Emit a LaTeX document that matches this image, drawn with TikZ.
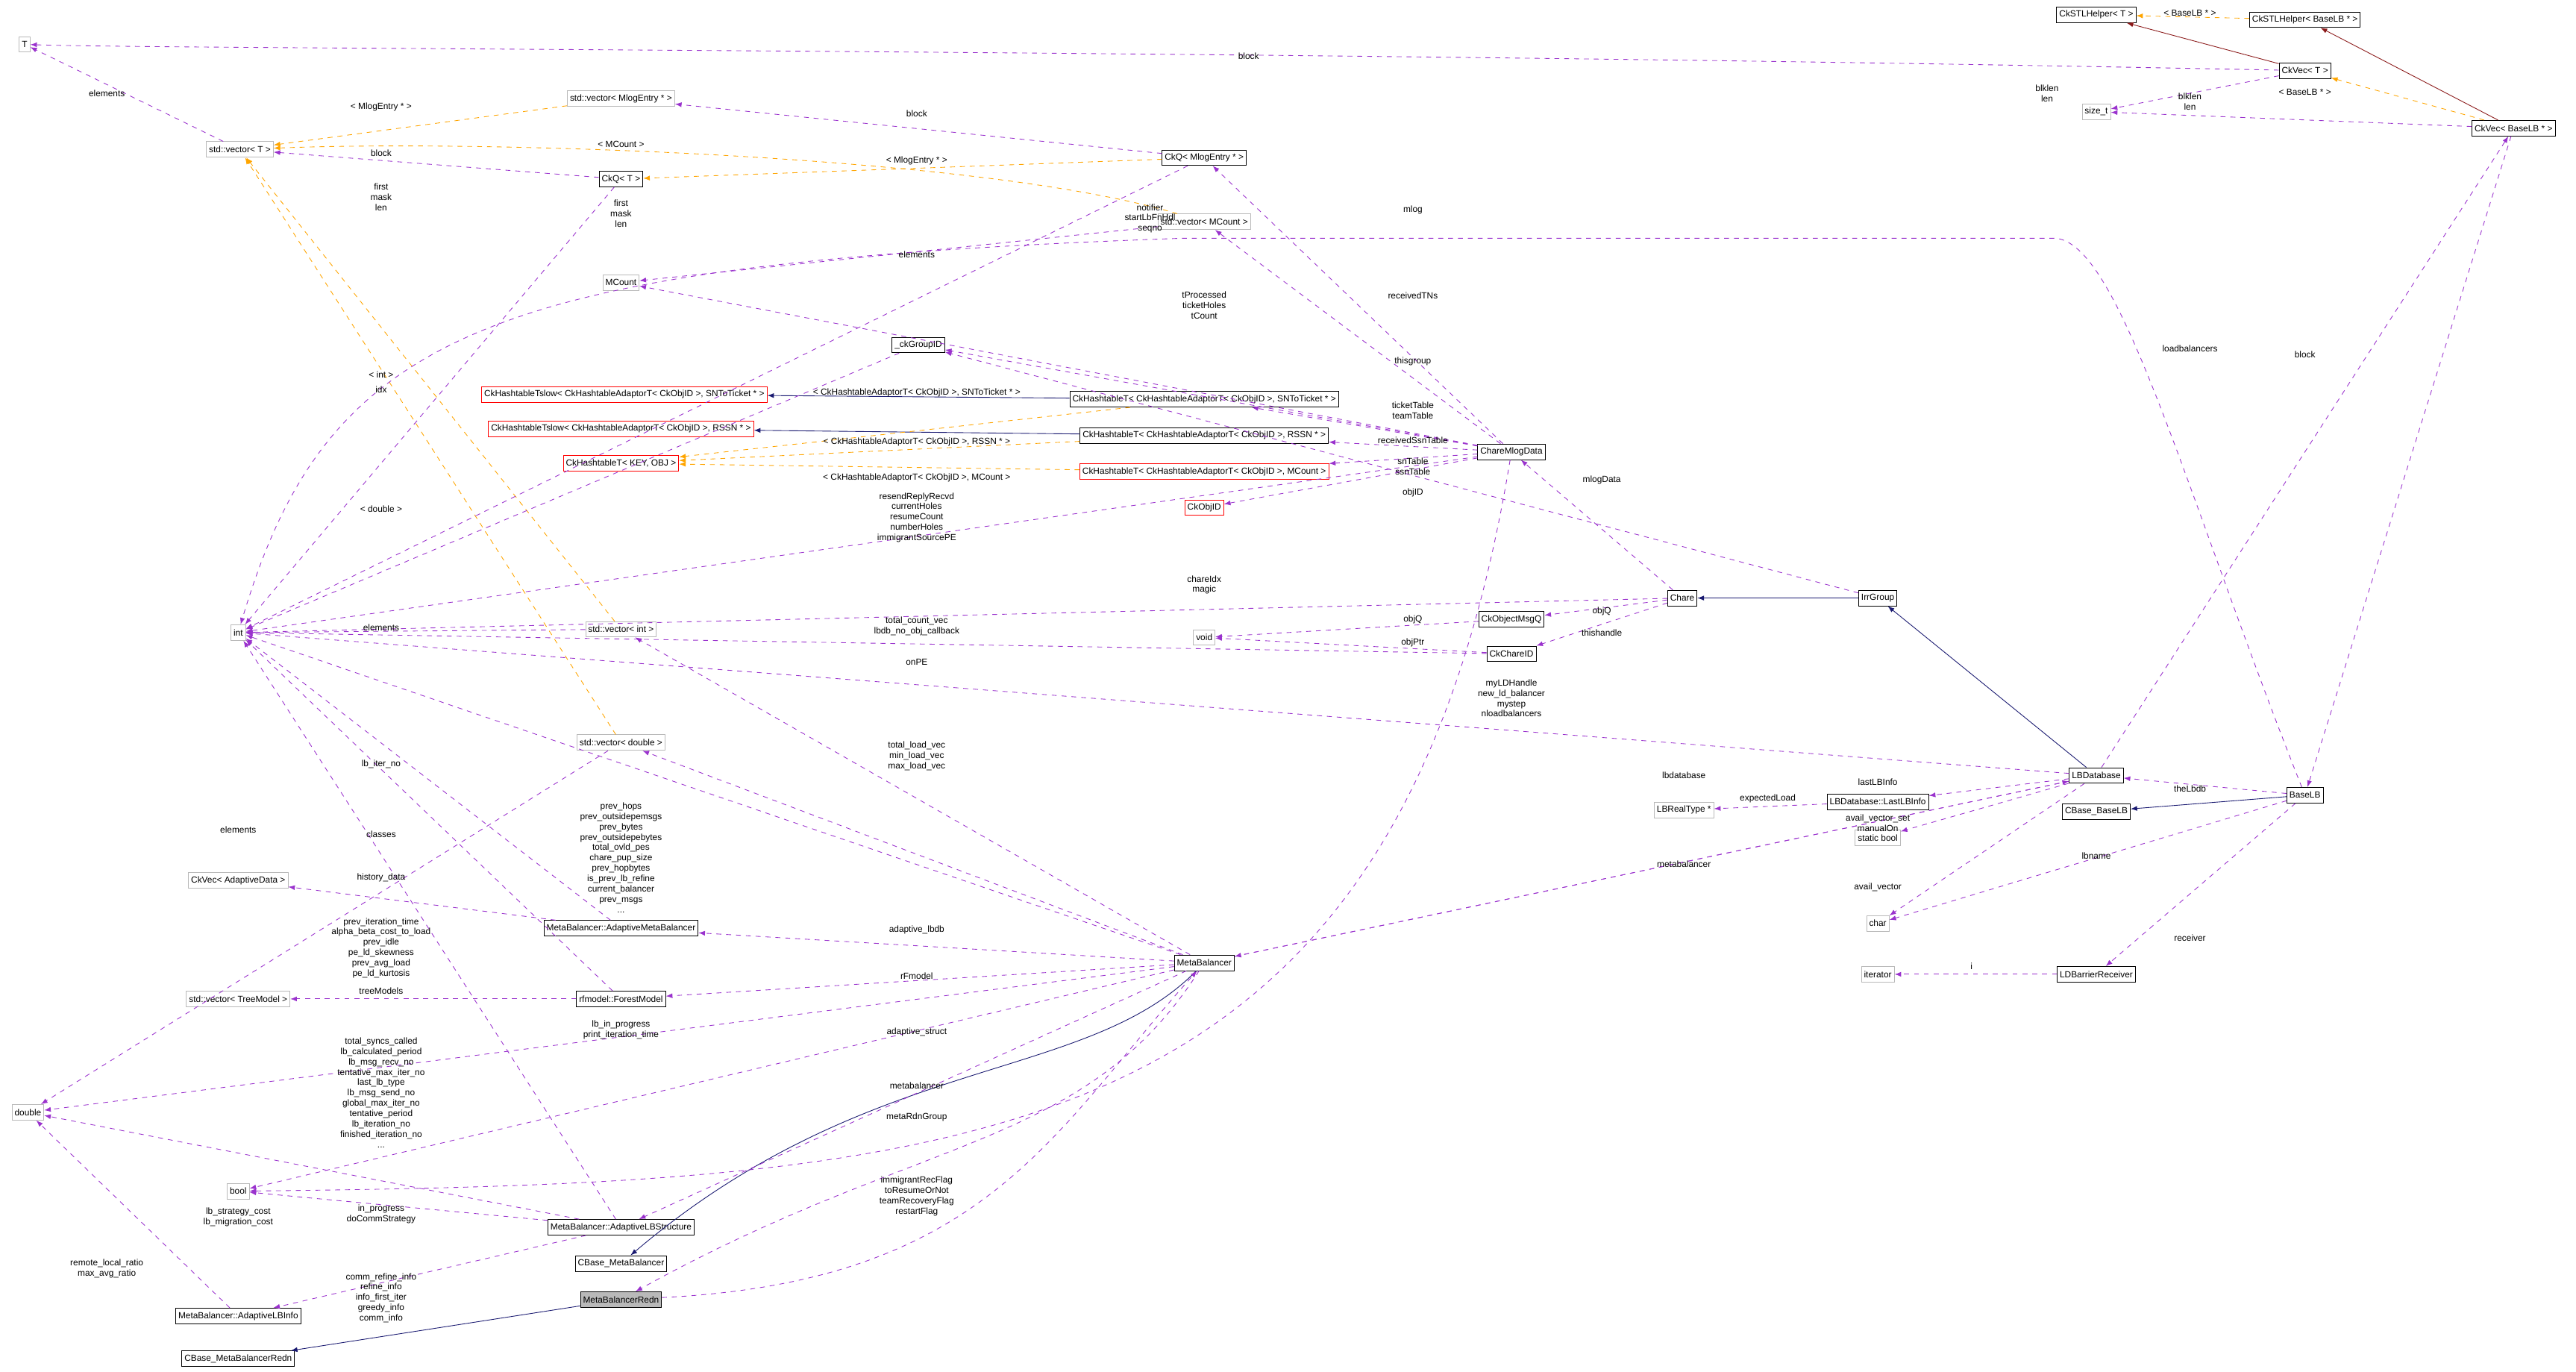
\documentclass[tikz,border=0pt]{standalone}
\usepackage{fontspec}
\setsansfont{Liberation Sans}
\usetikzlibrary{arrows.meta}
\definecolor{usecol}{RGB}{154,50,205}
\definecolor{tplcol}{RGB}{255,165,0}
\definecolor{inhcol}{RGB}{25,25,112}
\definecolor{stlcol}{RGB}{139,26,26}

\begin{document}
\begin{tikzpicture}[x=1pt, y=-1pt]
        % ================= styles =================
        \tikzset{
            cls/.style={draw=black, font=\sffamily\fontsize{5.4}{6.3}\selectfont, inner sep=1.6pt, minimum height=9.5pt},
            ext/.style={cls, draw=gray!55},
            bad/.style={cls, draw=red},
            cur/.style={cls, fill=gray!55},
            lbl/.style={font=\sffamily\fontsize{5.4}{6.3}\selectfont, align=center, inner sep=0pt},
            usage/.style={dashed, usecol, thin, -{Latex[length=4pt,width=3pt]}},
            tmpl/.style={dashed, tplcol, thin, -{Latex[length=4pt,width=3pt]}},
            inh/.style={inhcol, thin, -{Latex[length=4pt,width=3pt]}},
            stl/.style={stlcol, thin, -{Latex[length=4pt,width=3pt]}}
        }
        \useasboundingbox (0,0) rectangle (1568,835);

        % ================= nodes: left column =================
        \node[ext] (T) at (15,27) {T};
        \node[ext] (vecT) at (146,91) {std::vector< T >};
        \node[ext] (int) at (145,385) {int};
        \node[ext] (vecAdapt) at (145,536) {CkVec< AdaptiveData >};
        \node[ext] (vecTree) at (145,608) {std::vector< TreeModel >};
        \node[ext] (dbl) at (17,677) {double};
        \node[ext] (bool) at (145,725) {bool};
        \node[cls] (lbInfo) at (145,801) {MetaBalancer::AdaptiveLBInfo};
        \node[cls] (cbMBRedn) at (145,827) {CBase\_MetaBalancerRedn};

        % ================= nodes: second column =================
        \node[ext] (vecMlog) at (378,60) {std::vector< MlogEntry * >};
        \node[cls] (ckqT) at (378,109) {CkQ< T >};
        \node[ext] (mcount) at (378,172) {MCount};
        \node[bad] (slowSN) at (380,240) {CkHashtableTslow< CkHashtableAdaptorT< CkObjID >, SNToTicket * >};
        \node[bad] (slowRSSN) at (378,261) {CkHashtableTslow< CkHashtableAdaptorT< CkObjID >, RSSN * >};
        \node[bad] (htKey) at (378,282) {CkHashtableT< KEY, OBJ >};
        \node[ext] (vecInt) at (378,383) {std::vector< int >};
        \node[ext] (vecDbl) at (378,452) {std::vector< double >};
        \node[cls] (adMB) at (378,565) {MetaBalancer::AdaptiveMetaBalancer};
        \node[cls] (forest) at (378,608) {rfmodel::ForestModel};
        \node[cls] (lbStruct) at (378,747) {MetaBalancer::AdaptiveLBStructure};
        \node[cls] (cbMB) at (378,769) {CBase\_MetaBalancer};
        \node[cur] (mbRedn) at (378,791) {MetaBalancerRedn};

        % ================= nodes: third column =================
        \node[cls] (ckqMlog) at (733,96) {CkQ< MlogEntry * >};
        \node[ext] (vecMCount) at (733,135) {std::vector< MCount >};
        \node[cls] (groupID) at (559,210) {\_ckGroupID};
        \node[cls] (htSN) at (733,243) {CkHashtableT< CkHashtableAdaptorT< CkObjID >, SNToTicket * >};
        \node[cls] (htRSSN) at (733,265) {CkHashtableT< CkHashtableAdaptorT< CkObjID >, RSSN * >};
        \node[bad] (htMCount) at (733,287) {CkHashtableT< CkHashtableAdaptorT< CkObjID >, MCount >};
        \node[bad] (objID) at (733,309) {CkObjID};
        \node[ext] (void) at (733,388) {void};
        \node[cls] (mb) at (733,586) {MetaBalancer};

        % ================= nodes: right part =================
        \node[cls] (mlogData) at (920,275) {ChareMlogData};
        \node[cls] (msgQ) at (920,377) {CkObjectMsgQ};
        \node[cls] (chareID) at (920,398) {CkChareID};
        \node[cls] (chare) at (1024,364) {Chare};
        \node[cls] (irr) at (1143,364) {IrrGroup};
        \node[ext] (realType) at (1025,493) {LBRealType *};
        \node[cls] (lastInfo) at (1143,488) {LBDatabase::LastLBInfo};
        \node[ext] (sbool) at (1143,510) {static bool};
        \node[ext] (char) at (1143,562) {char};
        \node[ext] (iter) at (1143,593) {iterator};
        \node[cls] (lbdb) at (1276,472) {LBDatabase};
        \node[cls] (cbBaseLB) at (1276,494) {CBase\_BaseLB};
        \node[cls] (barrier) at (1276,593) {LDBarrierReceiver};
        \node[cls] (baseLB) at (1403,484) {BaseLB};
        \node[cls] (stlT) at (1276,9) {CkSTLHelper< T >};
        \node[cls] (stlB) at (1403,12) {CkSTLHelper< BaseLB * >};
        \node[cls] (ckvecT) at (1403,43) {CkVec< T >};
        \node[ext] (sizet) at (1276,68) {size\_t};
        \node[cls] (ckvecB) at (1530,78) {CkVec< BaseLB * >};

        % ================= inheritance / helper edges =================
        \foreach \a/\b in {htSN/slowSN, htRSSN/slowRSSN, irr/chare, lbdb/irr, baseLB/cbBaseLB, mbRedn/cbMBRedn}
            \draw[inh] (\a) -- (\b);
        \draw[inh] (mb) .. controls (660,660) and (530,640) .. (cbMB);
        \foreach \a/\b in {ckvecT/stlT, ckvecB/stlB}
            \draw[stl] (\a) -- (\b);

        % ================= template edges =================
        \foreach \a/\b in {vecMlog/vecT, ckqMlog/ckqT, vecInt/vecT, vecDbl/vecT,
                           htSN/htKey, htRSSN/htKey, htMCount/htKey, stlB/stlT, ckvecB/ckvecT}
            \draw[tmpl] (\a) -- (\b);
        \draw[tmpl] (vecMCount) .. controls (600,95) and (300,85) .. (vecT);

        % ================= usage edges =================
        \draw[usage] (ckvecT) .. controls (760,30) and (100,30) .. (T);
        \draw[usage] (baseLB) .. controls (1330,300) and (1290,145) .. (1250,145)
                     -- (720,145) .. controls (300,160) and (200,200) .. (int);
        \draw[usage] (mlogData) .. controls (850,700) and (600,720) .. (bool);
        \draw[usage] (mb) .. controls (660,700) and (560,690) .. (mbRedn);
        \draw[usage] (mbRedn) .. controls (600,780) and (640,690) .. (mb);
        \foreach \a/\b in {vecT/T, ckqMlog/vecMlog, ckqT/vecT, ckqT/int, ckqMlog/int, vecMCount/mcount,
                           mlogData/ckqMlog, mlogData/vecMCount, mlogData/groupID, mlogData/int,
                           mlogData/htSN, mlogData/htRSSN, mlogData/htMCount, mlogData/objID, mlogData/mcount,
                           groupID/int, irr/groupID, chare/int, vecInt/int, mb/vecInt,
                           msgQ/void, chareID/void, chare/msgQ, chare/chareID, chareID/int, chare/mlogData,
                           lbdb/int, mb/vecDbl, mb/int, vecDbl/dbl, adMB/int, adMB/vecAdapt, mb/adMB,
                           mb/dbl, forest/int, forest/vecTree, mb/forest, mb/bool, lbStruct/int, mb/lbStruct,
                           lbStruct/bool, lbStruct/dbl, lbInfo/dbl, lbStruct/lbInfo,
                           mb/lbdb, lbdb/mb, lbdb/lastInfo, lastInfo/realType, lbdb/sbool, lbdb/char,
                           baseLB/lbdb, baseLB/char, baseLB/barrier, barrier/iter, lbdb/ckvecB, ckvecB/baseLB,
                           ckvecT/sizet, ckvecB/sizet}
            \draw[usage] (\a) -- (\b);

        % ================= labels =================
        \node[lbl] (lBlockT) at (760,34) {block};
        \node[lbl] (lElemT) at (65,57) {elements};
        \node[lbl] (lBlockM) at (558,69) {block};
        \node[lbl] (lBlockQ) at (232,93) {block};
        \node[lbl] (lFirstQ) at (232,120) {first\\mask\\len};
        \node[lbl] (lFirstM) at (378,130) {first\\mask\\len};
        \node[lbl] (lElemMC) at (558,155) {elements};
        \node[lbl] (lMlog) at (860,128) {mlog};
        \node[lbl] (lNotif) at (700,133) {notifier\\startLbFnHdl\\seqno};
        \node[lbl] (lRecv) at (860,180) {receivedTNs};
        \node[lbl] (lTProc) at (733,186) {tProcessed\\ticketHoles\\tCount};
        \node[lbl] (lGroup) at (860,220) {thisgroup};
        \node[lbl] (lIdx) at (232,228) {< int >};
        \node[lbl] (lIdx2) at (232,237) {idx};
        \node[lbl] (lTplSN) at (558,239) {< CkHashtableAdaptorT< CkObjID >, SNToTicket * >};
        \node[lbl] (lTicket) at (860,250) {ticketTable\\teamTable};
        \node[lbl] (lSsn) at (860,268) {receivedSsnTable};
        \node[lbl] (lTplRSSN) at (558,269) {< CkHashtableAdaptorT< CkObjID >, RSSN * >};
        \node[lbl] (lSnT) at (860,284) {snTable\\ssnTable};
        \node[lbl] (lTplMC) at (558,291) {< CkHashtableAdaptorT< CkObjID >, MCount >};
        \node[lbl] (lMlogData) at (975,292) {mlogData};
        \node[lbl] (lObjID) at (860,300) {objID};
        \node[lbl] (lDblT) at (232,310) {< double >};
        \node[lbl] (lResend) at (558,315) {resendReplyRecvd\\currentHoles\\resumeCount\\numberHoles\\immigrantSourcePE};
        \node[lbl] (lChareIdx) at (733,356) {chareIdx\\magic};
        \node[lbl] (lObjQ1) at (975,372) {objQ};
        \node[lbl] (lObjQ2) at (860,377) {objQ};
        \node[lbl] (lElemI) at (232,382) {elements};
        \node[lbl] (lTotCnt) at (558,381) {total\_count\_vec\\lbdb\_no\_obj\_callback};
        \node[lbl] (lThis) at (975,385) {thishandle};
        \node[lbl] (lObjPtr) at (860,391) {objPtr};
        \node[lbl] (lOnPE) at (558,403) {onPE};
        \node[lbl] (lLDH) at (920,425) {myLDHandle\\new\_ld\_balancer\\mystep\\nloadbalancers};
        \node[lbl] (lLoadVec) at (558,460) {total\_load\_vec\\min\_load\_vec\\max\_load\_vec};
        \node[lbl] (lIterNo) at (232,465) {lb\_iter\_no};
        \node[lbl] (lLbdb) at (1025,472) {lbdatabase};
        \node[lbl] (lLast) at (1143,476) {lastLBInfo};
        \node[lbl] (lTheLbdb) at (1333,480) {theLbdb};
        \node[lbl] (lExpect) at (1076,486) {expectedLoad};
        \node[lbl] (lAvail) at (1143,501) {avail\_vector\_set\\manualOn};
        \node[lbl] (lElemD) at (145,505) {elements};
        \node[lbl] (lClasses) at (232,508) {classes};
        \node[lbl] (lPrev) at (378,522) {prev\_hops\\prev\_outsidepemsgs\\prev\_bytes\\prev\_outsidepebytes\\total\_ovld\_pes\\chare\_pup\_size\\prev\_hopbytes\\is\_prev\_lb\_refine\\current\_balancer\\prev\_msgs\\...};
        \node[lbl] (lLbname) at (1276,521) {lbname};
        \node[lbl] (lMBal) at (1025,526) {metabalancer};
        \node[lbl] (lHist) at (232,534) {history\_data};
        \node[lbl] (lAvailV) at (1143,540) {avail\_vector};
        \node[lbl] (lAdLbdb) at (558,566) {adaptive\_lbdb};
        \node[lbl] (lRecvr) at (1333,571) {receiver};
        \node[lbl] (lPrevIt) at (232,577) {prev\_iteration\_time\\alpha\_beta\_cost\_to\_load\\prev\_idle\\pe\_ld\_skewness\\prev\_avg\_load\\pe\_ld\_kurtosis};
        \node[lbl] (lI) at (1200,588) {i};
        \node[lbl] (lRF) at (558,594) {rFmodel};
        \node[lbl] (lTree) at (232,603) {treeModels};
        \node[lbl] (lInProg) at (378,627) {lb\_in\_progress\\print\_iteration\_time};
        \node[lbl] (lAdStr) at (558,628) {adaptive\_struct};
        \node[lbl] (lSyncs) at (232,665) {total\_syncs\_called\\lb\_calculated\_period\\lb\_msg\_recv\_no\\tentative\_max\_iter\_no\\last\_lb\_type\\lb\_msg\_send\_no\\global\_max\_iter\_no\\tentative\_period\\lb\_iteration\_no\\finished\_iteration\_no\\...};
        \node[lbl] (lMBal2) at (558,661) {metabalancer};
        \node[lbl] (lRdn) at (558,680) {metaRdnGroup};
        \node[lbl] (lImm) at (558,728) {immigrantRecFlag\\toResumeOrNot\\teamRecoveryFlag\\restartFlag};
        \node[lbl] (lInP) at (232,739) {in\_progress\\doCommStrategy};
        \node[lbl] (lCost) at (145,741) {lb\_strategy\_cost\\lb\_migration\_cost};
        \node[lbl] (lRatio) at (65,772) {remote\_local\_ratio\\max\_avg\_ratio};
        \node[lbl] (lComm) at (232,790) {comm\_refine\_info\\refine\_info\\info\_first\_iter\\greedy\_info\\comm\_info};
        \node[lbl] (lLB) at (1333,212) {loadbalancers};
        \node[lbl] (lBlockB) at (1403,216) {block};
        \node[lbl] (lBlk1) at (1246,57) {blklen\\len};
        \node[lbl] (lBlk2) at (1333,62) {blklen\\len};
        \node[lbl] (lTplB1) at (1333,8) {< BaseLB * >};
        \node[lbl] (lTplB2) at (1403,56) {< BaseLB * >};
        \node[lbl] (lTplM1) at (232,65) {< MlogEntry * >};
        \node[lbl] (lTplM2) at (558,98) {< MlogEntry * >};
        \node[lbl] (lTplMC2) at (378,88) {< MCount >};
\end{tikzpicture}
\end{document}
